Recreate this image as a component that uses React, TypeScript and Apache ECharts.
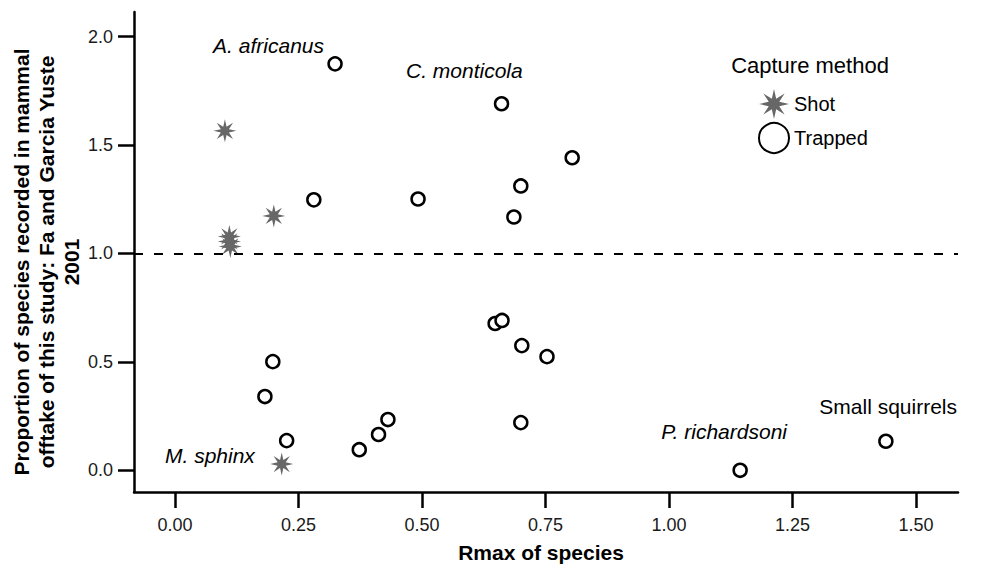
import React, { useEffect, useRef } from "react";
import * as echarts from "echarts";

// Data
const shotX = [0.101, 0.200, 0.110, 0.110, 0.112, 0.216];
const shotY = [1.565, 1.173, 1.078, 1.055, 1.032, 0.029];

const trappedX = [0.324, 0.661, 0.804, 0.700, 0.686, 0.492, 0.281, 0.648, 0.662, 0.702, 0.753, 0.198, 0.182, 0.226, 0.373, 0.412, 0.431, 0.700, 1.144, 1.439];
const trappedY = [1.874, 1.690, 1.441, 1.311, 1.168, 1.251, 1.247, 0.677, 0.691, 0.575, 0.524, 0.501, 0.340, 0.137, 0.095, 0.165, 0.234, 0.220, 0.000, 0.134];

const xTicks = [0, 0.25, 0.5, 0.75, 1.0, 1.25, 1.5];
const yTicks = [0, 0.5, 1.0, 1.5, 2.0];
const referenceLine = 1.0;

const annotations = [
  { text: "A. africanus", italic: true },
  { text: "C. monticola", italic: true },
  { text: "M. sphinx", italic: true },
  { text: "P. richardsoni", italic: true },
  { text: "Small squirrels", italic: false },
];
const annotationPos = [
  { x: 324, y: 45, align: "right" },
  { x: 406, y: 70, align: "left" },
  { x: 165, y: 455, align: "left" },
  { x: 787, y: 431, align: "right" },
  { x: 957, y: 406, align: "right" },
];

const FONT = "'Liberation Sans', Arial, Helvetica, sans-serif";

function makeStar(): string {
  const pts: string[] = [];
  for (let i = 0; i < 16; i++) {
    const a = -Math.PI / 2 + (i * Math.PI) / 8;
    const r = i % 2 === 0 ? 50 : 19;
    pts.push(`${(50 + r * Math.cos(a)).toFixed(2)} ${(50 + r * Math.sin(a)).toFixed(2)}`);
  }
  return "path://M" + pts.join(" L") + " Z";
}

export default function App() {
  const ref = useRef<HTMLDivElement>(null);
  useEffect(() => {
    if (!ref.current) return;
    const chart = echarts.init(ref.current, undefined, { renderer: "svg" });
    const star = makeStar();
    const txt = (x: number, y: number, text: string, extra: any = {}, rotation = 0) => ({
      type: "text",
      x,
      y,
      rotation,
      style: {
        text,
        fontFamily: FONT,
        fill: "#000",
        align: "center",
        textAlign: "center",
        verticalAlign: "middle",
        textVerticalAlign: "middle",
        ...extra,
      },
    });
    const graphics: any[] = annotations.map((a, i) =>
      txt(annotationPos[i].x, annotationPos[i].y, a.text, {
        fontSize: 21,
        fontStyle: a.italic ? "italic" : "normal",
        align: annotationPos[i].align,
        textAlign: annotationPos[i].align,
      })
    );
    graphics.push(txt(810, 65, "Capture method", { fontSize: 22 }));
    graphics.push(
      txt(
        46,
        262,
        "Proportion of species recorded in mammal\nofftake of this study: Fa and Garcia Yuste\n2001",
        { fontSize: 21, fontWeight: "bold", lineHeight: 25 },
        Math.PI / 2
      )
    );
    graphics.push(txt(541, 552, "Rmax of species", { fontSize: 21, fontWeight: "bold" }));

    chart.setOption({
      animation: false,
      backgroundColor: "#fff",
      textStyle: { fontFamily: FONT },
      grid: { left: 134, right: 31, top: 12, bottom: 76, containLabel: false },
      xAxis: {
        type: "value",
        min: -0.083,
        max: 1.585,
        splitLine: { show: false },
        axisLine: { show: true, onZero: false, lineStyle: { color: "#000", width: 2.5 } },
        axisTick: { show: true, length: 16, lineStyle: { color: "#000", width: 2.5 }, customValues: xTicks },
        axisLabel: {
          customValues: xTicks,
          margin: 24,
          fontSize: 18,
          color: "#1a1a1a",
          fontFamily: FONT,
          formatter: (v: number) => v.toFixed(2),
        },
      },
      yAxis: {
        type: "value",
        min: -0.1,
        max: 2.113,
        splitLine: { show: false },
        axisLine: { show: true, onZero: false, lineStyle: { color: "#000", width: 2.5 } },
        axisTick: { show: true, length: 16, lineStyle: { color: "#000", width: 2.5 }, customValues: yTicks },
        axisLabel: {
          customValues: yTicks,
          margin: 21,
          fontSize: 18,
          color: "#1a1a1a",
          fontFamily: FONT,
          formatter: (v: number) => v.toFixed(1),
        },
      },
      legend: {
        orient: "vertical",
        left: 753,
        top: 84,
        itemWidth: 30,
        itemHeight: 30,
        itemGap: 3,
        textStyle: { fontSize: 20, color: "#000", fontFamily: FONT },
        data: [
          { name: "Shot", icon: star },
          { name: "Trapped", icon: "circle" },
        ],
      },
      series: [
        {
          name: "Trapped",
          type: "scatter",
          symbol: "circle",
          symbolSize: 13,
          z: 3,
          itemStyle: { color: "#fff", borderColor: "#000", borderWidth: 2.5, opacity: 1 },
          data: trappedX.map((x, i) => [x, trappedY[i]]),
          markLine: {
            silent: true,
            symbol: ["none", "none"],
            label: { show: false },
            lineStyle: { type: [9, 11], color: "#000", width: 2 },
            data: [{ yAxis: referenceLine }],
          },
        },
        {
          name: "Shot",
          type: "scatter",
          symbol: star,
          symbolSize: 23,
          z: 4,
          itemStyle: { color: "#676767", opacity: 1 },
          data: shotX.map((x, i) => [x, shotY[i]]),
        },
      ],
      graphic: graphics,
    });
    return () => chart.dispose();
  }, []);
  return (
    <div
      ref={ref}
      style={{ position: "absolute", left: 0, top: 0, width: 989, height: 568 }}
    />
  );
}
